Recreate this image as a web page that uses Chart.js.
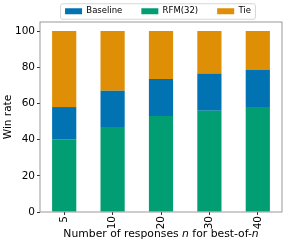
<!DOCTYPE html>
<html>
<head>
<meta charset="utf-8">
<script src="https://cdn.jsdelivr.net/npm/chart.js@4.4.1/dist/chart.umd.min.js"></script>
<style>
  body { margin: 0; background: #fff; }
  canvas { display: block; }
</style>
</head>
<body>
<canvas id="winChart" width="286" height="245"></canvas>
<script>
// values (percent)
const responses = ['5', '10', '20', '30', '40'];
const rfm = [40, 47, 53, 56, 58];
const baseline = [18, 20, 20.5, 20.5, 20.5];
const tie = [42, 33, 26.5, 23.5, 21.5];
const yTicks = [0, 20, 40, 60, 80, 100];

const legendOrder = ['Baseline', 'RFM(32)', 'Tie'];
const FONT = 'DejaVu Sans';

// legend height + frame, x title with italic n, spines
const tweaks = {
    id: 'tweaks',
    beforeInit(chart) {
        const origFit = chart.legend.fit;
        chart.legend.fit = function () {
            origFit.bind(chart.legend)();
            this.height = 22;
        };
    },
    afterLayout(chart) {
        // move legend up and right, keep bottom so nothing is clipped
        const lg = chart.legend;
        lg.top -= 12;
        lg.left += 17;
        lg.right += 17;
    },
    afterDraw(chart) {
        const ctx = chart.ctx;
        const area = chart.chartArea;
        const lg = chart.legend;
        const pad = lg.options.labels.padding;

        // legend frame
        const startX = (lg.left + pad + lg.right - lg.lineWidths[0]) / 2;
        const endX = startX + lg.lineWidths[0] - pad;
        const cy = lg.top + pad + 4.25;
        ctx.save();
        ctx.strokeStyle = '#cccccc';
        ctx.lineWidth = 0.8;
        ctx.beginPath();
        ctx.roundRect(startX - 4.5, cy - 7.5, endX - startX + 9, 15.5, 2);
        ctx.stroke();

        // spines
        ctx.strokeStyle = '#808080';
        ctx.lineWidth = 0.8;
        ctx.strokeRect(area.left, area.top, area.right - area.left, area.bottom - area.top);

        // x axis title
        const parts = [['Number of responses ', false], ['n', true], [' for best-of-', false], ['n', true]];
        const font = it => (it ? 'italic ' : '') + '10.8px "' + FONT + '"';
        let total = 0;
        parts.forEach(([t, it]) => {
            ctx.font = font(it);
            total += ctx.measureText(t).width;
        });
        let x = (area.left + area.right) / 2 - total / 2;
        ctx.fillStyle = '#000';
        ctx.textBaseline = 'middle';
        ctx.textAlign = 'left';
        parts.forEach(([t, it]) => {
            ctx.font = font(it);
            ctx.fillText(t, x, 234);
            x += ctx.measureText(t).width;
        });
        ctx.restore();
    }
};

const ctx = document.getElementById('winChart').getContext('2d');
new Chart(ctx, {
    type: 'bar',
    data: {
        labels: responses,
        datasets: [
            { label: 'RFM(32)', data: rfm, backgroundColor: '#029e73' },
            { label: 'Baseline', data: baseline, backgroundColor: '#0173b2' },
            { label: 'Tie', data: tie, backgroundColor: '#de8f05' }
        ]
    },
    options: {
        responsive: false,
        devicePixelRatio: 1,
        animation: false,
        layout: { padding: { left: 0, right: 4, top: 0, bottom: 0 } },
        datasets: {
            bar: { categoryPercentage: 0.5, barPercentage: 1, borderWidth: 0 }
        },
        plugins: {
            tooltip: { enabled: false },
            legend: {
                position: 'top',
                labels: {
                    boxWidth: 17,
                    boxHeight: 6,
                    padding: 19,
                    color: '#000',
                    font: { family: FONT, size: 8.5 },
                    sort: (a, b) => legendOrder.indexOf(a.text) - legendOrder.indexOf(b.text)
                }
            }
        },
        scales: {
            x: {
                stacked: true,
                border: { display: false },
                grid: { display: true, offset: false, drawOnChartArea: false, tickLength: 3, color: '#333', tickColor: '#333' },
                ticks: { minRotation: 90, maxRotation: 90, padding: 1, color: '#000', font: { family: FONT, size: 10.5 } },
                afterFit(scale) { scale.height = 33; }
            },
            y: {
                stacked: true,
                min: 0,
                max: 105,
                border: { display: false },
                grid: { display: true, drawOnChartArea: false, tickLength: 3, color: '#333', tickColor: '#333' },
                ticks: { stepSize: 20, padding: 2, color: '#000', font: { family: FONT, size: 10.5 } },
                afterBuildTicks(scale) {
                    scale.ticks = yTicks.map(v => ({ value: v }));
                },
                title: { display: true, text: 'Win rate', color: '#000', font: { family: FONT, size: 10.5 }, padding: { top: 2, bottom: 0 } },
                afterFit(scale) { scale.width = 40; }
            }
        }
    },
    plugins: [tweaks]
});
</script>
</body>
</html>
